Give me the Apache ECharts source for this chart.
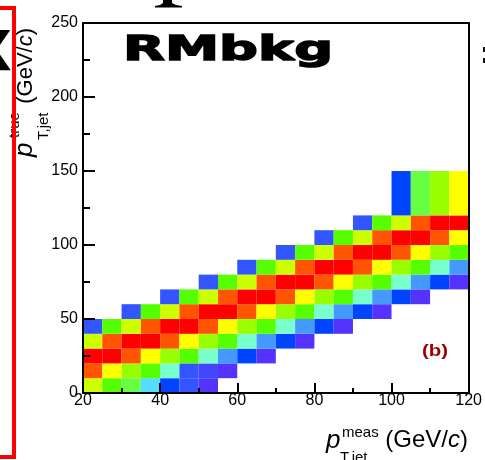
<!DOCTYPE html>
<html><head><meta charset="utf-8">
<script src="https://cdn.jsdelivr.net/npm/echarts@6/dist/echarts.min.js"></script>
<style>html,body{margin:0;padding:0;background:#fff;overflow:hidden}#c{width:485px;height:460px}</style>
</head><body><div id="c"></div><script>
const _ = null;
// bin edges (GeV/c)
const xEdges = [20,25,30,35,40,45,50,55,60,65,70,75,80,85,90,95,100,105,110,115,120];
const yEdges = [0,10,20,30,40,50,60,70,80,90,100,110,120,150];
// colour levels (1 = lowest, 13 = highest)
const row0  = [10,8,7,5,3,2,1,_,_,_,_,_,_,_,_,_,_,_,_,_];
const row1  = [12,11,9,8,6,2,1.6,1,_,_,_,_,_,_,_,_,_,_,_,_];
const row2  = [13,13,12,11,9,8,6,4,3,1,_,_,_,_,_,_,_,_,_,_];
const row3  = [10,12,13,13,12,11,9,8,6,4,3,1,_,_,_,_,_,_,_,_];
const row4  = [2,8,10,12,13,13,12,11,9,8,6,4,3,1,_,_,_,_,_,_];
const row5  = [_,_,2,8,10,12,13,13,12,11,9,8,6,4,3,1,_,_,_,_];
const row6  = [_,_,_,_,2,8,10,12,13,13,12,11,9,8,6,4,3,1,_,_];
const row7  = [_,_,_,_,_,_,2,8,10,12,13,13,12,11,9,8,6,4,3,1];
const row8  = [_,_,_,_,_,_,_,_,2,8,10,12,13,13,12,11,9,8,6,4];
const row9  = [_,_,_,_,_,_,_,_,_,_,2,8,10,12,13,13,12,11,9,8];
const row10 = [_,_,_,_,_,_,_,_,_,_,_,_,2,8,10,12,13,13,12,11];
const row11 = [_,_,_,_,_,_,_,_,_,_,_,_,_,_,2,8,10,12,13,13];
const row12 = [_,_,_,_,_,_,_,_,_,_,_,_,_,_,_,_,3,7,9,11];
const rows = [row0,row1,row2,row3,row4,row5,row6,row7,row8,row9,row10,row11,row12];
const palette = ['#5533ff','#3355ff','#0044ff','#4499ff','#55ddff','#77ffcc','#66ff44','#55ff00','#99ff00','#ccff00','#ffff00','#ff5500','#ff0000'];

const data = [];
rows.forEach((r, j) => r.forEach((v, i) => {
  if (v !== null) data.push([xEdges[i], xEdges[i+1], yEdges[j], yEdges[j+1], v]);
}));

const chart = echarts.init(document.getElementById('c'), null, {renderer:'canvas'});
const lab = {fontFamily:'Liberation Sans', fontSize:16, color:'#000'};
const FS = 'Liberation Sans';
function t(x, y, text, size, extra) {
  return {type:'text', x:x, y:y, style:Object.assign({text:text, fontFamily:FS, fontSize:size, fill:'#000', align:'left', verticalAlign:'middle'}, extra||{})};
}
chart.setOption({
  animation:false,
  backgroundColor:'#fff',
  grid:{left:83, top:23, width:388, height:370, show:false},
  visualMap:{show:false, type:'continuous', dimension:4, min:1, max:13, seriesIndex:0, inRange:{color:palette}},
  xAxis:[{
    type:'value', min:20, max:120, interval:20, position:'bottom', z:5,
    splitLine:{show:false},
    axisLine:{show:true, onZero:false, lineStyle:{color:'#000', width:2}},
    axisTick:{show:true, inside:true, length:10, lineStyle:{color:'#000', width:2}},
    minorTick:{show:true, splitNumber:2, length:5, lineStyle:{color:'#000', width:2}},
    axisLabel:Object.assign({margin:0}, lab)
  },{
    type:'value', min:20, max:120, position:'top', z:5,
    splitLine:{show:false}, axisTick:{show:false}, axisLabel:{show:false},
    axisLine:{show:true, onZero:false, lineStyle:{color:'#000', width:2}}
  }],
  yAxis:[{
    type:'value', min:0, max:250, interval:50, position:'left', z:5,
    splitLine:{show:false},
    axisLine:{show:true, onZero:false, lineStyle:{color:'#000', width:2}},
    axisTick:{show:true, inside:true, length:12, lineStyle:{color:'#000', width:2}},
    minorTick:{show:true, splitNumber:2, length:7, lineStyle:{color:'#000', width:2}},
    axisLabel:Object.assign({margin:5}, lab)
  },{
    type:'value', min:0, max:250, position:'right', z:5,
    splitLine:{show:false}, axisTick:{show:false}, axisLabel:{show:false},
    axisLine:{show:true, onZero:false, lineStyle:{color:'#000', width:2}}
  }],
  series:[{
    type:'custom', xAxisIndex:0, yAxisIndex:0, clip:true,
    encode:{x:[0,1], y:[2,3]},
    data:data,
    renderItem:function(params, api){
      const p0 = api.coord([api.value(0), api.value(2)]);
      const p1 = api.coord([api.value(1), api.value(3)]);
      return {type:'rect', shape:{x:p0[0], y:p1[1], width:p1[0]-p0[0], height:p0[1]-p1[1]},
              style:{fill:api.visual('color'), stroke:null}};
    }
  }],
  graphic:[
    // decorative cropped elements
    {type:'rect', shape:{x:-20, y:8, width:34, height:449}, style:{fill:null, stroke:'#ff0000', lineWidth:4}, z:10},
    {type:'text', x:12, y:55, style:{text:'X', fontFamily:'DejaVu Sans', fontWeight:'bold', fontSize:56, fill:'#000', align:'right', verticalAlign:'middle'}},
    {type:'polygon', shape:{points:[[163,0],[172,0],[172,3],[176,5],[182,6],[182,7.5],[155,7.5],[155,6],[160,5],[163,3]]}, style:{fill:'#000'}},
    {type:'rect', shape:{x:483, y:47, width:4, height:5}, style:{fill:'#111'}},
    {type:'rect', shape:{x:483, y:58, width:4, height:5}, style:{fill:'#111'}},
    // title
    {type:'text', x:123, y:51, scaleX:1.6, style:{text:'RMbkg', fontFamily:'DejaVu Sans', fontWeight:'bold', fontSize:34, fill:'#000', stroke:'#000', lineWidth:1.4, align:'left', verticalAlign:'middle'}, z:10},
    // panel label
    {type:'text', x:422, y:357-0.31*17, scaleX:1.2, style:{text:'(b)', fontFamily:FS, fontWeight:'bold', fontSize:17, fill:'#990000', align:'left', verticalAlign:'middle'}, z:10},
    // x axis title
    {type:'group', children:[
      t(326, 449-0.31*26, 'p', 26, {fontStyle:'italic'}),
      t(342, 438-0.31*15, 'meas', 15),
      t(340, 463-0.31*15, 'T,jet', 15),
      {type:'text', x:468, y:448-0.31*24, style:{text:'{n|(GeV/}{i|c}{n|)}', fontFamily:FS, fontSize:24, fill:'#000', align:'right', verticalAlign:'middle',
        rich:{n:{fontFamily:FS, fontSize:24, fill:'#000'}, i:{fontFamily:FS, fontSize:24, fontStyle:'italic', fill:'#000'}}}}
    ]},
    // y axis title (rotated)
    {type:'group', x:33, y:157, rotation:Math.PI/2, children:[
      t(0, -0.31*26, 'p', 26, {fontStyle:'italic'}),
      t(19, -13-0.31*15, 'true', 15),
      t(17, 15.7-0.31*15, 'T,jet', 15),
      {type:'text', x:129, y:-0.31*22, style:{text:'{n|(GeV/}{i|c}{n|)}', fontFamily:FS, fontSize:22, fill:'#000', align:'right', verticalAlign:'middle',
        rich:{n:{fontFamily:FS, fontSize:22, fill:'#000'}, i:{fontFamily:FS, fontSize:22, fontStyle:'italic', fill:'#000'}}}}
    ]}
  ]
});
</script></body></html>
